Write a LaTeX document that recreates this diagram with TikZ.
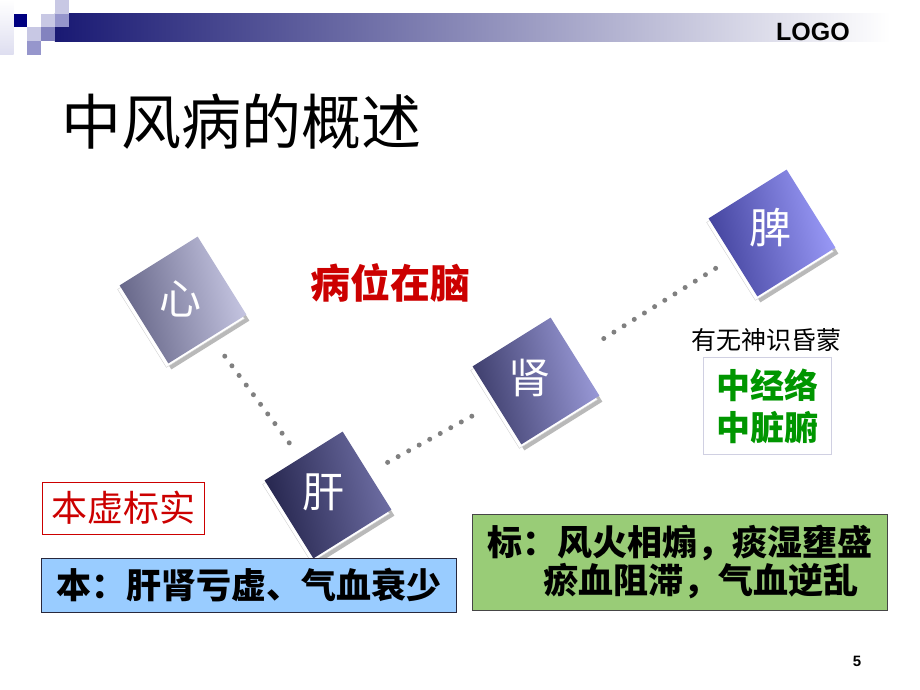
\documentclass[tikz,border=0pt]{standalone}
\usepackage{fontspec}
\usepackage{tikz}
\usetikzlibrary{shadows}
\setmainfont{Liberation Sans}
\newfontfamily\cjk{Noto Sans CJK SC}

\definecolor{barblue}{RGB}{25,25,115}
\definecolor{sqdark}{RGB}{0,0,128}
\definecolor{sqlight}{RGB}{200,200,228}
\definecolor{sqmid}{RGB}{150,150,204}
\definecolor{sqfaint}{RGB}{222,222,240}
\definecolor{titlered}{RGB}{204,0,0}
\definecolor{textgreen}{RGB}{0,150,0}
\definecolor{boxblue}{RGB}{153,204,255}
\definecolor{boxgreen}{RGB}{153,204,119}
\definecolor{xinlight}{RGB}{200,200,228}
\definecolor{xindark}{RGB}{100,100,134}
\definecolor{ganlight}{RGB}{112,112,166}
\definecolor{gandark}{RGB}{36,36,76}
\definecolor{shenlight}{RGB}{156,156,218}
\definecolor{shendark}{RGB}{60,60,106}
\definecolor{pilight}{RGB}{156,156,250}
\definecolor{pidark}{RGB}{66,66,156}

\begin{document}
\begin{tikzpicture}[x=1pt,y=-1pt,
    organ/.style 2 args={rectangle,rotate=32,minimum size=92pt,inner sep=0pt,
      general shadow={fill=gray!55,shadow xshift=3pt,shadow yshift=-6pt},
      general shadow={fill=white,draw=gray!35,shadow xshift=-2pt,shadow yshift=-4pt},
      top color=#1,bottom color=#2,shading angle=-77},
    organtext/.style={text=white,inner sep=0pt,font=\cjk\fontsize{42}{42}\selectfont},
    dotline/.style={draw=gray,line width=5pt,line cap=round,dash pattern=on 0pt off 12pt},
    box/.style={rectangle,inner sep=0pt,line width=1pt}]

    \useasboundingbox (0,0) rectangle (920,690);
    \fill[white] (0,0) rectangle (920,690);

    \shade[top color=white,bottom color=sqfaint] (0,0) rectangle (13.7,54.8);
    \shade[left color=barblue,right color=white] (54.8,13.7) rectangle (890,41.1);

    \fill[sqdark] (13.7,13.7) rectangle (27.4,27.4);
    \fill[sqlight] (41.1,13.7) rectangle (54.8,27.4);
    \fill[sqlight] (54.8,0) rectangle (68.5,13.7);
    \fill[sqmid] (54.8,13.7) rectangle (68.5,27.4);
    \fill[sqlight] (27.4,27.4) rectangle (41.1,41.1);
    \fill[sqmid!85!barblue] (41.1,27.4) rectangle (54.8,41.1);
    \fill[sqmid] (27.4,41.1) rectangle (41.1,54.8);

    \node[font=\bfseries\fontsize{25}{25}\selectfont] (logo) at (813,32) {LOGO};

    \node[font=\cjk\fontsize{60}{60}\selectfont] (title) at (241,122) {中风病的概述};



    \node[organ={xinlight}{xindark}] (xin) at (183,300) {};
    \node[organtext] (xintext) at ([xshift=-3pt,yshift=1pt]xin.center) {心};

    \node[organ={ganlight}{gandark}] (gan) at (328,495) {};
    \node[organtext] (gantext) at ([xshift=-5pt,yshift=3pt]gan.center) {肝};

    \node[organ={shenlight}{shendark}] (shen) at (536,381) {};
    \node[organtext] (shentext) at ([xshift=-7pt,yshift=3pt]shen.center) {肾};

    \node[organ={pilight}{pidark}] (pi) at (772,233) {};
    \node[organtext] (pitext) at ([xshift=-2pt,yshift=5pt]pi.center) {脾};

    \draw[dotline,shorten <=70pt,shorten >=56pt] (xin.center) -- (gan.center);
    \draw[dotline,shorten <=68pt,shorten >=62pt] (gan.center) -- (shen.center);
    \draw[dotline,shorten <=80pt,shorten >=60pt] (shen.center) -- (pi.center);



    \node[text=titlered,font=\cjk\bfseries\fontsize{40}{40}\selectfont] (naobing) at (390,283) {病位在脑};

    \node[font=\cjk\fontsize{25}{25}\selectfont] (shenzhi) at (766,340) {有无神识昏蒙};

    \node[box,draw={rgb,255:red,208;green,208;blue,226},line width=0.8pt,
      minimum width=128pt,minimum height=97pt,align=center,text=textgreen,
      font=\cjk\bfseries\fontsize{34}{42}\selectfont] (zhong) at (767,406)
      {中经络\\中脏腑};

    \node[box,draw=titlered,fill=white,minimum width=162pt,minimum height=52pt,
      text=titlered,font=\cjk\fontsize{36}{36}\selectfont] (benxu) at (123,508) {本虚标实};

    \node[box,draw={rgb,255:red,40;green,40;blue,60},fill=boxblue,
      minimum width=415pt,minimum height=54pt,
      font=\cjk\bfseries\fontsize{35}{35}\selectfont] (ben) at (249,585)
      {本：肝肾亏虚、气血衰少};

    \node[box,draw={rgb,255:red,70;green,70;blue,70},fill=boxgreen,
      minimum width=415pt,minimum height=96pt,align=left,
      font=\cjk\bfseries\fontsize{35}{38}\selectfont] (biao) at (679.5,562)
      {标：风火相煽，痰湿壅盛\\\hspace*{1.6em}瘀血阻滞，气血逆乱};

    \node[font=\bfseries\fontsize{15}{15}\selectfont] (page) at (857,661) {5};

\end{tikzpicture}
\end{document}
